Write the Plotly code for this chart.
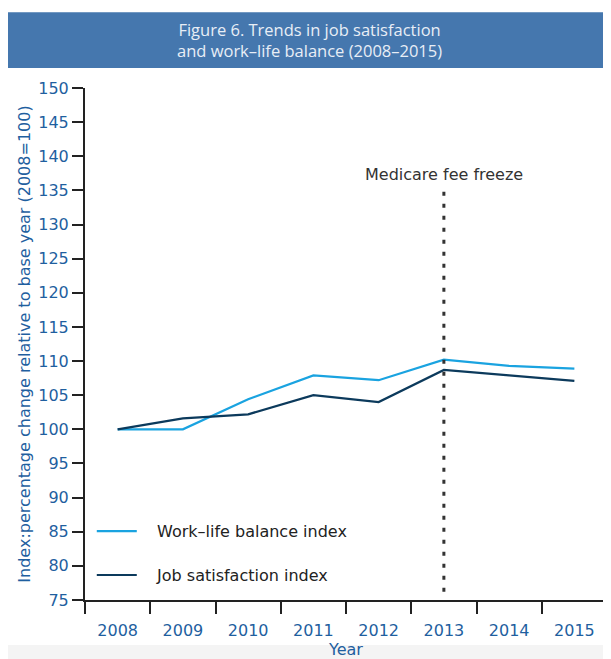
import plotly.graph_objects as go

# chart data
years = ["2008", "2009", "2010", "2011", "2012", "2013", "2014", "2015"]
work_life = [100.0, 100.0, 104.4, 107.9, 107.2, 110.2, 109.3, 108.9]
job_satisfaction = [100.0, 101.6, 102.2, 105.0, 104.0, 108.7, 107.9, 107.1]
freeze_year = "2013"
y_ticks = list(range(75, 151, 5))

TICK_BLUE = "#1f5f9f"
LIGHT = "#1aa3e0"
DARK = "#0c3a5c"
PAD = "\u00a0" * 3  # pushes legend text away from the line sample

fig = go.Figure()

fig.add_trace(
    go.Scatter(
        x=years,
        y=work_life,
        mode="lines",
        name=PAD + "Work\u2013life balance index",
        line=dict(color=LIGHT, width=2.2),
        legendgroup="a",
    )
)
fig.add_trace(
    go.Scatter(
        x=years,
        y=job_satisfaction,
        mode="lines",
        name=PAD + "Job satisfaction index",
        line=dict(color=DARK, width=2.2),
        legendgroup="b",
    )
)

# policy marker line (category axis -> use the category index)
freeze_idx = years.index(freeze_year)
fig.add_shape(
    type="line",
    xref="x",
    yref="paper",
    x0=freeze_idx,
    x1=freeze_idx,
    y0=0.016,
    y1=0.802,
    line=dict(color="#333333", width=3, dash="4px,8px"),
)
fig.add_annotation(
    x=freeze_idx,
    y=0.808,
    xref="x",
    yref="paper",
    text="Medicare fee freeze",
    showarrow=False,
    yanchor="bottom",
    font=dict(family="DejaVu Sans", size=16, color="#333333"),
)

# title band
fig.add_shape(
    type="rect",
    xref="paper",
    yref="paper",
    x0=-0.16,
    x1=1.1,
    y0=1.039,
    y1=1.148,
    fillcolor="#4577ae",
    line=dict(width=0),
    layer="below",
)
fig.add_annotation(
    x=0.43,
    y=1.094,
    xref="paper",
    yref="paper",
    text="Figure 6. Trends in job satisfaction<br>and work\u2013life balance (2008\u20132015)",
    showarrow=False,
    yanchor="middle",
    font=dict(family="Open Sans", size=16.5, color="#e8eef6"),
    align="center",
)

# faint bottom strip
fig.add_shape(
    type="rect",
    xref="paper",
    yref="paper",
    x0=-0.2,
    x1=1.1,
    y0=-0.088,
    y1=-0.2,
    fillcolor="#f4f4f4",
    line=dict(width=0),
    layer="below",
)

fig.update_layout(
    width=611,
    height=659,
    margin=dict(l=77, r=12, t=80, b=67),
    paper_bgcolor="white",
    plot_bgcolor="white",
    showlegend=True,
    legend=dict(
        x=0.013,
        y=0.015,
        xanchor="left",
        yanchor="bottom",
        bgcolor="rgba(0,0,0,0)",
        font=dict(family="DejaVu Sans", size=16, color="#222222"),
        tracegroupgap=20,
        itemwidth=40,
    ),
    xaxis=dict(
        type="category",
        range=[-0.5, 7.5],
        automargin=False,
        showline=True,
        linecolor="#222222",
        linewidth=2,
        ticks="outside",
        tickson="boundaries",
        ticklen=12,
        tickcolor="#222222",
        tickwidth=1.5,
        ticklabelstandoff=15,
        showgrid=False,
        tickfont=dict(family="DejaVu Sans", size=16, color=TICK_BLUE),
        title=dict(
            text="Year",
            font=dict(family="DejaVu Sans", size=16, color=TICK_BLUE),
            standoff=2,
        ),
    ),
    yaxis=dict(
        range=[75, 150],
        tickvals=y_ticks,
        automargin=False,
        showline=True,
        linecolor="#222222",
        linewidth=2,
        ticks="outside",
        ticklen=11,
        tickcolor="#222222",
        tickwidth=1.5,
        showgrid=False,
        zeroline=False,
        tickfont=dict(family="DejaVu Sans", size=16, color=TICK_BLUE),
        title=dict(
            text="Index:percentage change relative to base year (2008=100)",
            font=dict(family="DejaVu Sans", size=16, color=TICK_BLUE),
            standoff=4,
        ),
    ),
)

fig.write_html("out.html")
